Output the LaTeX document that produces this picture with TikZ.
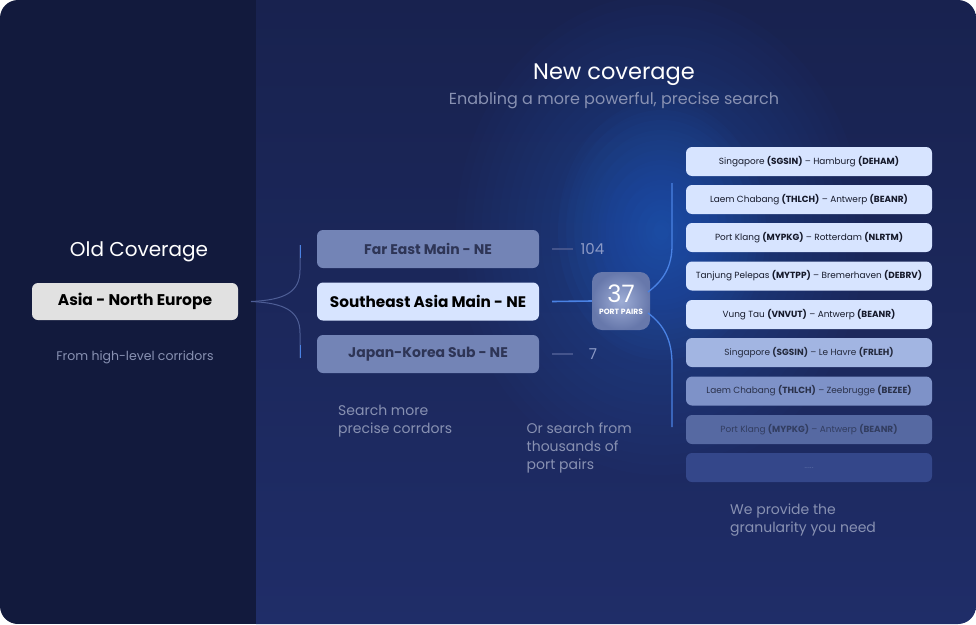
\documentclass[tikz,border=0pt]{standalone}
\usepackage{fontspec}
\setmainfont{Poppins}
\definecolor{leftbg}{HTML}{121A3D}
\definecolor{righttop}{HTML}{18224F}
\definecolor{rightbot}{HTML}{1F2D68}
\definecolor{glowc}{HTML}{2F68D4}
\definecolor{muted}{HTML}{8891B2}
\definecolor{muted2}{HTML}{8C9AC6}
\definecolor{lightbox}{HTML}{D7E4FF}
\definecolor{midbox}{HTML}{7384B6}
\definecolor{midtxt}{HTML}{2E3556}
\definecolor{asiabox}{HTML}{E1E1E1}
\definecolor{bracec}{HTML}{4E5E96}
\definecolor{bluel}{HTML}{4A82E4}
\definecolor{dimline}{HTML}{44548C}
\definecolor{rowsix}{HTML}{A2B5E2}
\definecolor{rowseven}{HTML}{7E92C8}
\definecolor{roweight}{HTML}{5669A2}
\definecolor{rownine}{HTML}{34478A}
\definecolor{listtxt}{HTML}{15192A}
\newcommand{\fsz}[1]{\fontsize{#1}{#1}\selectfont}
\begin{document}
\begin{tikzpicture}[x=1pt,y=-1pt,
  midboxst/.style={rounded corners=6pt, minimum width=222pt, minimum height=38pt, inner sep=0pt, font=\bfseries\fsz{14}},
  listbox/.style={rounded corners=6pt, minimum width=246pt, minimum height=29pt, inner sep=0pt, font=\fsz{8.9}, text=listtxt},
  bracest/.style={draw=bracec, line width=1pt},
  bluest/.style={draw=bluel, line width=1.3pt},
  dimst/.style={draw=dimline, line width=1.2pt},
  para/.style={anchor=north west, align=left, inner sep=0pt, text=muted, font=\fontsize{14}{18}\selectfont}
]
\useasboundingbox (0,0) rectangle (976,624);
\fill[white] (0,0) rectangle (976,624);
\begin{scope}
  \clip[rounded corners=18pt] (0,0) rectangle (976,624);
  \shade[top color=righttop, bottom color=rightbot] (256,0) rectangle (976,624);
  \foreach \r in {10,20,...,240} {
    \fill[glowc, fill opacity=0.022] (660,235) ellipse ({0.85*\r pt} and {\r pt});
  }
  \foreach \r in {10,20,...,130} {
    \fill[glowc, fill opacity=0.045] (662,230) ellipse ({0.8*\r pt} and {\r pt});
  }
  \fill[leftbg] (0,0) rectangle (256,624);
\end{scope}

% titles
\node[anchor=base, text=white, inner sep=0pt, font=\fsz{22.5}] (newt) at (614,79.3) {New coverage};
\node[anchor=base, text=muted, inner sep=0pt, font=\fsz{16}] (newsub) at (614,104) {Enabling a more powerful, precise search};

% left panel
\node[anchor=base, text=white, inner sep=0pt, font=\fsz{20}] (oldt) at (139,256) {Old Coverage};
\node[fill=asiabox, rounded corners=6pt, minimum width=206pt, minimum height=37pt, inner sep=0pt, font=\bfseries\fsz{15.5}, text=black] (asia) at (135,301.5) {Asia - North Europe};
\node[anchor=base, text=muted, inner sep=0pt, font=\fsz{12.5}] (hl) at (135,360) {From high-level corridors};

% brace
\coordinate (bj) at (251,301.5);
\coordinate (btop) at (300,245);
\coordinate (bbot) at (300,358);
\draw[bracest] (bj) .. controls (285,300) and (300,292) .. (300,270) -- (btop);
\draw[bracest] (bj) .. controls (285,303) and (300,311) .. (300,333) -- (bbot);
\draw[draw=bluel, line width=1pt] (300,258) -- (btop);
\draw[draw=bluel, line width=1pt] (300,345) -- (bbot);

% middle boxes
\node[midboxst, fill=midbox, text=midtxt] (far) at (428,249) {Far East Main - NE};
\node[midboxst, fill=lightbox, text=black, font=\bfseries\fsz{15.3}] (se) at (428,301.5) {Southeast Asia Main - NE};
\node[midboxst, fill=midbox, text=midtxt] (jk) at (428,354) {Japan-Korea Sub - NE};

\node[anchor=base, text=muted2, inner sep=0pt, font=\fsz{15}] (n104) at (592.5,254) {104};
\node[anchor=base, text=muted2, inner sep=0pt, font=\fsz{15}] (n7) at (593,359) {7};
\draw[dimst] ([xshift=13pt]far.east) -- ([xshift=34pt]far.east);
\draw[dimst] ([xshift=13pt]jk.east) -- ([xshift=34pt]jk.east);

% port pairs box
\node[rounded corners=10pt, minimum width=58pt, minimum height=58pt, inner sep=0pt, inner color=rowseven!75!white, outer color=roweight!90!white, draw=none] (pp) at (621,301) {};
\node[anchor=base, text=white, inner sep=0pt, font=\fsz{24}] (p37) at (621,302) {37};
\node[anchor=base, text=white, inner sep=0pt, font=\bfseries\fsz{7.6}] (ppl) at (621,314) {PORT PAIRS};
\draw[draw=bluel, line width=1.6pt] ([xshift=13pt]se.east) -- (pp.west);

% right connectors
\coordinate (rtop) at (672,183);
\coordinate (rbot) at (672,427);
\draw[bluest] (648,292) .. controls (664,280) and (672,266) .. (672,245) -- (rtop);
\draw[bluest] (648,313) .. controls (664,325) and (672,340) .. (672,364) -- (rbot);

% list
\node[listbox, fill=lightbox] (r1) at (809,161.5) {Singapore \textbf{(SGSIN)} – Hamburg \textbf{(DEHAM)}};
\node[listbox, fill=lightbox] (r2) at (809,199.5) {Laem Chabang \textbf{(THLCH)} – Antwerp \textbf{(BEANR)}};
\node[listbox, fill=lightbox] (r3) at (809,237.5) {Port Klang \textbf{(MYPKG)} – Rotterdam \textbf{(NLRTM)}};
\node[listbox, fill=lightbox] (r4) at (809,276) {Tanjung Pelepas \textbf{(MYTPP)} – Bremerhaven \textbf{(DEBRV)}};
\node[listbox, fill=lightbox] (r5) at (809,314.5) {Vung Tau \textbf{(VNVUT)} – Antwerp \textbf{(BEANR)}};
\node[listbox, fill=rowsix, text=listtxt!90!rowsix] (r6) at (809,352.5) {Singapore \textbf{(SGSIN)} – Le Havre \textbf{(FRLEH)}};
\node[listbox, fill=rowseven, text=listtxt!80!rowseven] (r7) at (809,391) {Laem Chabang \textbf{(THLCH)} – Zeebrugge \textbf{(BEZEE)}};
\node[listbox, fill=roweight, text=listtxt!55!roweight] (r8) at (809,429.5) {Port Klang \textbf{(MYPKG)} – Antwerp \textbf{(BEANR)}};
\node[listbox, fill=rownine, text=roweight] (r9) at (809,467.5) {.....};

% paragraphs
\node[para] (t1) at (338,405) {Search more\\precise corrdors};
\node[para] (t2) at (526.5,423) {Or search from\\thousands of\\port pairs};
\node[para] (t3) at (730,503.5) {We provide the\\granularity you need};
\end{tikzpicture}
\end{document}
